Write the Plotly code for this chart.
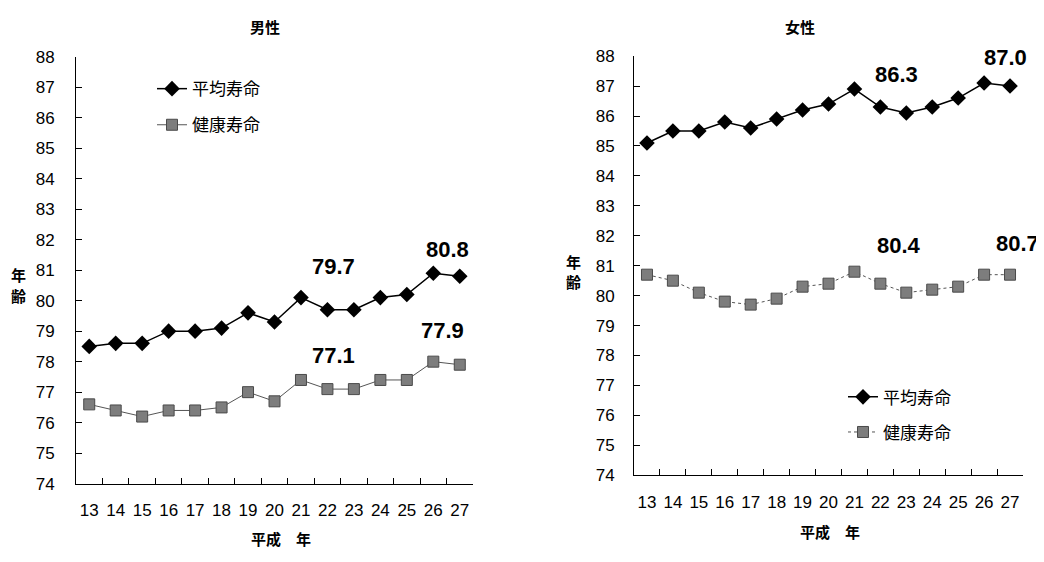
import plotly.graph_objects as go

years = ["13", "14", "15", "16", "17", "18", "19", "20", "21", "22", "23", "24", "25", "26", "27"]
male_avg = [78.5, 78.6, 78.6, 79.0, 79.0, 79.1, 79.6, 79.3, 80.1, 79.7, 79.7, 80.1, 80.2, 80.9, 80.8]
male_health = [76.6, 76.4, 76.2, 76.4, 76.4, 76.5, 77.0, 76.7, 77.4, 77.1, 77.1, 77.4, 77.4, 78.0, 77.9]
female_avg = [85.1, 85.5, 85.5, 85.8, 85.6, 85.9, 86.2, 86.4, 86.9, 86.3, 86.1, 86.3, 86.6, 87.1, 87.0]
female_health = [80.7, 80.5, 80.1, 79.8, 79.7, 79.9, 80.3, 80.4, 80.8, 80.4, 80.1, 80.2, 80.3, 80.7, 80.7]
series_names = ["平均寿命", "健康寿命"]
y_ticks = list(range(74, 89))

W, H = 1044, 562
OFF = 8  # default page body margin
FONT = "Liberation Sans, Arial, Noto Sans CJK JP"
CJK = "Noto Sans CJK JP"

fig = go.Figure()

avg_marker = dict(symbol="diamond", size=12, color="black")
hl_marker = dict(symbol="square", size=11, color="#7d7d7d", line=dict(color="#4a4a4a", width=1))

fig.add_trace(go.Scatter(x=years, y=male_avg, name=series_names[0], mode="lines+markers",
                         line=dict(color="black", width=1.5), marker=avg_marker,
                         xaxis="x", yaxis="y", legend="legend", legendgroup="a"))
fig.add_trace(go.Scatter(x=years, y=male_health, name=series_names[1], mode="lines+markers",
                         line=dict(color="#555555", width=1), marker=hl_marker,
                         xaxis="x", yaxis="y", legend="legend", legendgroup="b"))
fig.add_trace(go.Scatter(x=years, y=female_avg, name=series_names[0], mode="lines+markers",
                         line=dict(color="black", width=1.5), marker=avg_marker,
                         xaxis="x2", yaxis="y2", legend="legend2", legendgroup="c"))
fig.add_trace(go.Scatter(x=years, y=female_health, name=series_names[1], mode="lines+markers",
                         line=dict(color="#555555", width=1, dash="dot"), marker=hl_marker,
                         xaxis="x2", yaxis="y2", legend="legend2", legendgroup="d"))

def px_x(p):
    return (p - OFF) / W

def px_y(p):
    return 1 - (p - OFF) / H

xaxis_common = dict(type="category", tickson="boundaries", ticks="inside", ticklen=6,
                    tickcolor="black", showline=True, linecolor="black", linewidth=1,
                    showgrid=False, zeroline=False, range=[-0.5, 14.5], tickangle=0,
                    tickfont=dict(family=FONT, size=17, color="black"))
yaxis_common = dict(range=[74, 88], tickvals=y_ticks, ticks="inside", ticklen=6,
                    tickcolor="black", showline=True, linecolor="black", linewidth=1,
                    showgrid=False, zeroline=False,
                    tickfont=dict(family=FONT, size=17, color="black"))

fig.update_layout(
    width=W, height=H,
    margin=dict(l=0, r=0, t=0, b=0),
    paper_bgcolor="white", plot_bgcolor="white",
    xaxis=dict(domain=[px_x(76), px_x(473)], anchor="y", ticklabelstandoff=11, **xaxis_common),
    yaxis=dict(domain=[px_y(491), px_y(49)], anchor="x", ticklabelstandoff=17, **yaxis_common),
    xaxis2=dict(domain=[px_x(634), px_x(1023)], anchor="y2", ticklabelstandoff=11, **xaxis_common),
    yaxis2=dict(domain=[px_y(482.3), px_y(48.5)], anchor="x2", ticklabelstandoff=15, **yaxis_common),
    legend=dict(x=px_x(152), y=px_y(64), xanchor="left", yanchor="top",
                bgcolor="rgba(0,0,0,0)", font=dict(family=CJK, size=17, color="black"),
                traceorder="grouped", tracegroupgap=11, itemwidth=30),
    legend2=dict(x=px_x(843), y=px_y(383), xanchor="left", yanchor="top",
                 bgcolor="rgba(0,0,0,0)", font=dict(family=CJK, size=17, color="black"),
                 traceorder="grouped", tracegroupgap=10, itemwidth=30),
    showlegend=True,
)

anns = [
    dict(text="<b>男性</b>", x=265, y=18),
    dict(text="<b>女性</b>", x=800, y=18),
    dict(text="<b>平成　年</b>", x=281, y=548),
    dict(text="<b>平成　年</b>", x=830, y=540),
    dict(text="<b>年</b>", x=18, y=275),
    dict(text="<b>齢</b>", x=18, y=296),
    dict(text="<b>年</b>", x=573, y=261),
    dict(text="<b>齢</b>", x=573, y=282),
]
for a in anns:
    fig.add_annotation(text=a["text"], x=px_x(a["x"]), y=px_y(a["y"]), xref="paper", yref="paper",
                       showarrow=False, xanchor="center", yanchor="middle",
                       font=dict(family=CJK, size=15, color="black"))

def label(xax, yax, idx, val, dy_px, dx_px=0):
    fig.add_annotation(text="<b>%.1f</b>" % val, x=idx, y=val, xref=xax, yref=yax,
                       showarrow=False, xshift=dx_px, yshift=dy_px,
                       font=dict(family=FONT, size=22, color="black"))

label("x", "y", 9, male_avg[9], 43, 6)
label("x", "y", 14, male_avg[14], 27, -12)
label("x", "y", 9, male_health[9], 34, 6)
label("x", "y", 14, male_health[14], 34, -17)
label("x2", "y2", 9, female_avg[9], 33, 16)
label("x2", "y2", 14, female_avg[14], 29, -5)
label("x2", "y2", 9, female_health[9], 38, 19)
label("x2", "y2", 14, female_health[14], 31, 7)

fig.write_html("out.html")
